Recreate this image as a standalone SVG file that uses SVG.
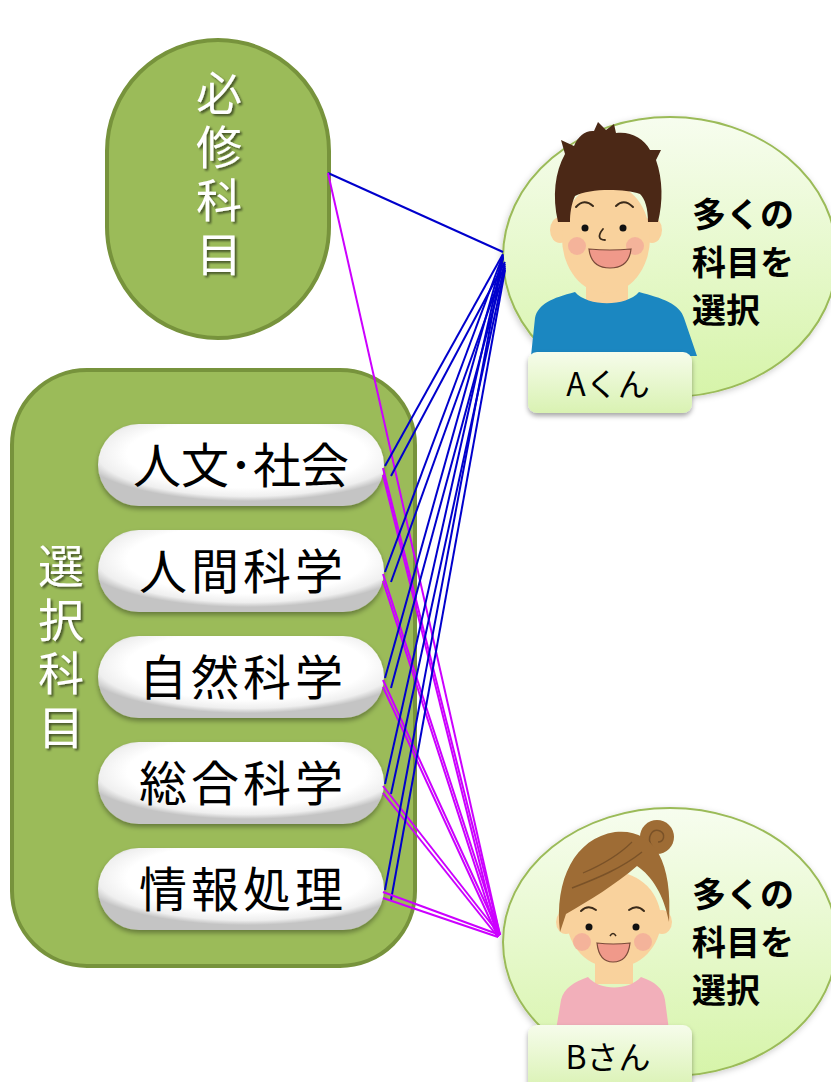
<svg xmlns="http://www.w3.org/2000/svg" width="831" height="1082" viewBox="0 0 831 1082">
  <defs>
    <radialGradient id="pillFill" cx="52%" cy="36%" r="58%">
      <stop offset="0" stop-color="#FFFFFF"/>
      <stop offset="0.72" stop-color="#FFFFFF"/>
      <stop offset="0.9" stop-color="#EFEFEF"/>
      <stop offset="1" stop-color="#C4C4C4"/>
    </radialGradient>
    <linearGradient id="bubbleFill" x1="0" y1="0" x2="0" y2="1">
      <stop offset="0" stop-color="#F7FDEF"/>
      <stop offset="1" stop-color="#D6F4A9"/>
    </linearGradient>
    <linearGradient id="tagFill" x1="0" y1="0" x2="0" y2="1">
      <stop offset="0" stop-color="#F6FCEB"/>
      <stop offset="1" stop-color="#D9F2B2"/>
    </linearGradient>
    <filter id="softShadow" x="-10%" y="-10%" width="120%" height="130%">
      <feDropShadow dx="0" dy="3" stdDeviation="2.5" flood-color="#000" flood-opacity="0.35"/>
    </filter>
    <filter id="bubbleShadow" x="-10%" y="-10%" width="120%" height="125%">
      <feDropShadow dx="-1" dy="2" stdDeviation="3" flood-color="#000" flood-opacity="0.2"/>
    </filter>
    <filter id="textShadow" x="-30%" y="-10%" width="160%" height="120%">
      <feDropShadow dx="2" dy="2" stdDeviation="1.2" flood-color="#000" flood-opacity="0.55"/>
    </filter>
  </defs>
  <style>
    .group-box { fill: #9BBB59; stroke: #77933C; stroke-width: 4; }
    .pill { fill: url(#pillFill); filter: url(#softShadow); }
    .pill-label { font-family: "Noto Sans CJK JP", "Noto Sans CJK SC", sans-serif; font-size: 48px; fill: #000; text-anchor: middle; }
    .vlabel { font-family: "Noto Sans CJK JP", "Noto Sans CJK SC", sans-serif; font-size: 46px; fill: #FFFFFF; writing-mode: vertical-rl; letter-spacing: 7.5px; filter: url(#textShadow); }
    .bubble { fill: url(#bubbleFill); stroke: #9BBB59; stroke-width: 2; filter: url(#bubbleShadow); }
    .note { font-family: "Noto Sans CJK JP", "Noto Sans CJK SC", sans-serif; font-size: 34px; font-weight: bold; fill: #000; }
    .tag { fill: url(#tagFill); filter: url(#softShadow); }
    .tag-label { font-family: "Noto Sans CJK JP", "Noto Sans CJK SC", sans-serif; font-size: 32px; fill: #000; text-anchor: middle; }
    .to-a { stroke: #0000CC; stroke-width: 2; fill: none; }
    .to-b { stroke: #CC00FF; stroke-width: 2; fill: none; }
    .skin { fill: #F9D29D; }
    .cheek { fill: #F3AE9A; opacity: 0.85; }
    .eye { fill: #111; }
    .mouth { fill: #F0998A; stroke: #7A4A3A; stroke-width: 1.2; }
    .brow { fill: none; stroke: #3A2A1A; stroke-width: 2; stroke-linecap: round; }
  </style>

  <!-- required subjects -->
  <g id="required">
    <rect class="group-box" x="107" y="40" width="222" height="298" rx="111" ry="111"/>
    <text class="vlabel" x="219" y="70">必修科目</text>
  </g>

  <!-- elective subjects -->
  <g id="electives">
    <rect class="group-box" x="12" y="370" width="403" height="596" rx="75" ry="75"/>
    <text class="vlabel" x="61" y="543">選択科目</text>
  </g>

  <g id="course-humanities">
    <rect class="pill" x="98" y="424" width="286" height="82" rx="41"/>
    <text class="pill-label" x="241" y="483">人文･社会</text>
  </g>
  <g id="course-human-science">
    <rect class="pill" x="98" y="530" width="286" height="82" rx="41"/>
    <text class="pill-label" x="243" y="589" letter-spacing="4">人間科学</text>
  </g>
  <g id="course-natural-science">
    <rect class="pill" x="98" y="636" width="286" height="82" rx="41"/>
    <text class="pill-label" x="243" y="695" letter-spacing="4">自然科学</text>
  </g>
  <g id="course-integrated-science">
    <rect class="pill" x="98" y="742" width="286" height="82" rx="41"/>
    <text class="pill-label" x="243" y="801" letter-spacing="4">総合科学</text>
  </g>
  <g id="course-information">
    <rect class="pill" x="98" y="848" width="286" height="82" rx="41"/>
    <text class="pill-label" x="243" y="907" letter-spacing="4">情報処理</text>
  </g>

  <!-- student A -->
  <g id="student-a">
    <ellipse class="bubble" cx="670" cy="257" rx="167" ry="140"/>
    <rect class="skin" x="586" y="268" width="42" height="36"/>
    <path d="M531,356 L535,318 C538,304 552,298 575,292 C588,307 626,307 639,292 C662,298 680,304 684,318 L697,356 Z" fill="#1B87C1"/>
    <ellipse class="skin" cx="560" cy="230" rx="10" ry="13"/>
    <ellipse class="skin" cx="652" cy="230" rx="10" ry="13"/>
    <ellipse class="skin" cx="606" cy="238" rx="44" ry="55"/>
    <path d="M558,222 C552,196 555,172 565,154 L561,140 L574,146 C578,136 586,130 594,131 L598,122 L606,130 L614,124 L616,133 C630,131 644,138 650,150 L661,150 L656,160 C663,180 663,202 658,222 L648,222 C648,208 645,199 640,194 C625,189 590,188 575,196 C571,205 570,214 570,222 Z" fill="#4B2816"/>
    <path class="brow" d="M576,207 Q584,198 593,206"/>
    <path class="brow" d="M616,206 Q624,198 633,207"/>
    <circle class="eye" cx="585" cy="228" r="3.5"/>
    <circle class="eye" cx="623" cy="228" r="3.5"/>
    <path d="M603,229 C598,235 598,240 605,240" fill="none" stroke="#3A2A1A" stroke-width="1.8" stroke-linecap="round"/>
    <circle class="cheek" cx="577" cy="246" r="9"/>
    <circle class="cheek" cx="635" cy="246" r="9"/>
    <path class="mouth" d="M589,249 Q610,251 631,249 Q629,268 610,268 Q591,268 589,249 Z"/>
    <rect class="tag" x="528" y="352" width="164" height="61" rx="9"/>
    <text class="tag-label" x="608" y="396">Aくん</text>
    <text class="note"><tspan x="692" y="227">多くの</tspan><tspan x="692" y="275">科目を</tspan><tspan x="692" y="323">選択</tspan></text>
  </g>

  <!-- student B -->
  <g id="student-b">
    <ellipse class="bubble" cx="670" cy="942" rx="167" ry="134"/>
    <rect class="skin" x="595" y="950" width="38" height="34"/>
    <path d="M556,1030 L561,1000 C564,988 574,982 588,977 C600,991 628,991 641,977 C655,982 663,988 665,1000 L669,1030 Z" fill="#F2AFBA"/>
    <ellipse class="skin" cx="566" cy="922" rx="10" ry="12"/>
    <ellipse class="skin" cx="662" cy="922" rx="10" ry="12"/>
    <ellipse class="skin" cx="614" cy="920" rx="47" ry="48"/>
    <circle cx="657" cy="837" r="17" fill="#9E6C35"/>
    <path d="M652,846 C646,838 652,828 660,831 C666,834 664,842 658,842" fill="none" stroke="#7A5228" stroke-width="1.5"/>
    <path d="M560,932 C554,880 575,838 615,832 C652,828 673,858 669,922 C664,895 652,876 637,866 C615,885 590,900 566,914 Z" fill="#9E6C35"/>
    <path d="M572,888 C598,878 622,868 642,852" fill="none" stroke="#7A5228" stroke-width="1.5"/>
    <path d="M583,873 C604,864 620,854 632,842" fill="none" stroke="#7A5228" stroke-width="1.2"/>
    <path class="brow" d="M581,911 Q588,904 596,910" stroke="#7A5228"/>
    <path class="brow" d="M629,910 Q637,904 644,911" stroke="#7A5228"/>
    <circle class="eye" cx="589" cy="927" r="3.5"/>
    <circle class="eye" cx="636" cy="927" r="3.5"/>
    <path d="M610,936 Q613,931 616,936" fill="none" stroke="#3A2A1A" stroke-width="1.5"/>
    <circle class="cheek" cx="582" cy="942" r="9"/>
    <circle class="cheek" cx="643" cy="942" r="9"/>
    <path class="mouth" d="M597,943 Q613,945 630,943 Q628,962 613,962 Q599,962 597,943 Z"/>
    <rect class="tag" x="528" y="1025" width="164" height="66" rx="9"/>
    <text class="tag-label" x="608" y="1069">Bさん</text>
    <text class="note"><tspan x="692" y="907">多くの</tspan><tspan x="692" y="955">科目を</tspan><tspan x="692" y="1003">選択</tspan></text>
  </g>

  <!-- connectors -->
  <g id="connectors">
    <line class="to-a" x1="328" y1="173" x2="503" y2="252"/>
    <line class="to-b" x1="328" y1="173" x2="500" y2="935"/>

    <line class="to-a" x1="385" y1="466" x2="503" y2="254"/>
    <line class="to-a" x1="391" y1="476" x2="505" y2="262"/>
    <line class="to-b" x1="383" y1="468" x2="500" y2="935"/>
    <line class="to-b" x1="383" y1="475" x2="498" y2="937"/>

    <line class="to-a" x1="385" y1="572" x2="503" y2="255"/>
    <line class="to-a" x1="391" y1="582" x2="505" y2="264"/>
    <line class="to-b" x1="383" y1="574" x2="500" y2="935"/>
    <line class="to-b" x1="383" y1="581" x2="498" y2="937"/>

    <line class="to-a" x1="385" y1="678" x2="503" y2="256"/>
    <line class="to-a" x1="391" y1="688" x2="505" y2="266"/>
    <line class="to-b" x1="383" y1="680" x2="500" y2="935"/>
    <line class="to-b" x1="383" y1="687" x2="498" y2="937"/>

    <line class="to-a" x1="385" y1="784" x2="503" y2="257"/>
    <line class="to-a" x1="391" y1="794" x2="505" y2="268"/>
    <line class="to-b" x1="383" y1="786" x2="500" y2="935"/>
    <line class="to-b" x1="383" y1="793" x2="498" y2="937"/>

    <line class="to-a" x1="385" y1="890" x2="503" y2="258"/>
    <line class="to-a" x1="391" y1="900" x2="505" y2="270"/>
    <line class="to-b" x1="383" y1="892" x2="500" y2="935"/>
    <line class="to-b" x1="383" y1="898" x2="498" y2="937"/>
  </g>
</svg>
